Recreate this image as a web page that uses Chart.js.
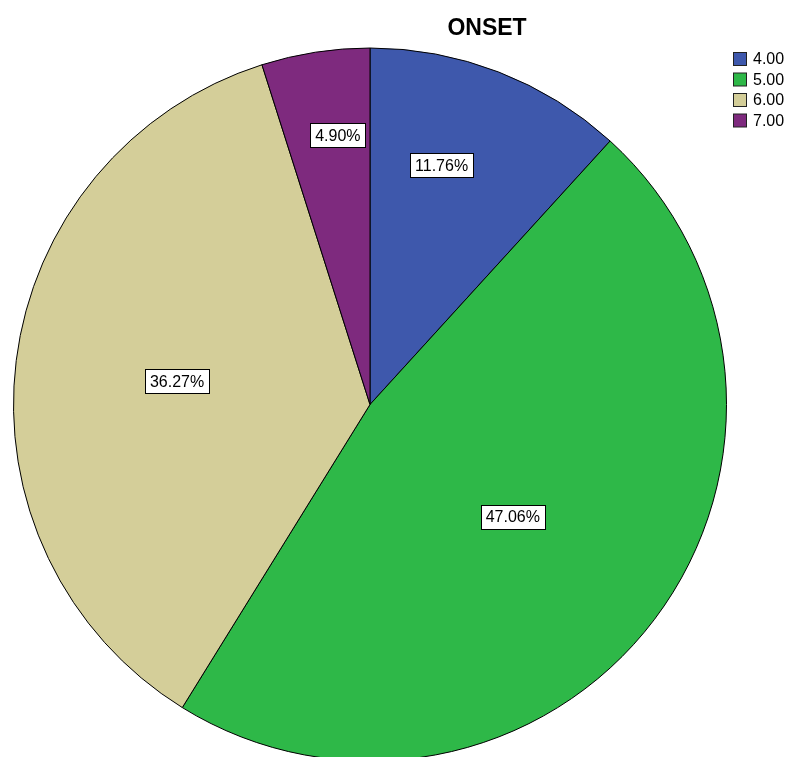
<!DOCTYPE html>
<html>
<head>
<meta charset="utf-8">
<script src="https://cdn.jsdelivr.net/npm/chart.js@4/dist/chart.umd.min.js"></script>
<style>
html,body{margin:0;padding:0;background:#fff;overflow:hidden;}
canvas{display:block;}
</style>
</head>
<body>
<canvas id="c" width="788" height="800"></canvas>
<script>
const chartTitle = "ONSET";
const categories = ["4.00", "5.00", "6.00", "7.00"];
const percentages = [11.76, 47.06, 36.27, 4.90];
const sliceColors = ["#3E58AC", "#2EB848", "#D4CE99", "#7E2A7E"];

// label placement style (radial fraction, angular tweak in degrees)
const labelRadial = [0.70, 0.51, 0.545, 0.76];
const labelAngleTweak = [-4.5, 1.2, -0.2, 2.0];

const FONT = '"Liberation Sans", Arial, sans-serif';

const overlay = {
  id: 'overlay',
  afterDraw(chart) {
    const ctx = chart.ctx;
    const meta = chart.getDatasetMeta(0);
    ctx.save();
    // labels
    ctx.font = '16px ' + FONT;
    ctx.textAlign = 'center';
    ctx.textBaseline = 'middle';
    meta.data.forEach((arc, i) => {
      const mid = (arc.startAngle + arc.endAngle) / 2 + labelAngleTweak[i] * Math.PI / 180;
      const r = arc.outerRadius * labelRadial[i];
      const x = arc.x + Math.cos(mid) * r;
      const y = arc.y + Math.sin(mid) * r;
      const txt = percentages[i].toFixed(2) + '%';
      const w = ctx.measureText(txt).width + 10;
      const h = 24;
      ctx.fillStyle = '#fff';
      ctx.fillRect(Math.round(x - w / 2) + 0.5, Math.round(y - h / 2) + 0.5, Math.round(w), h);
      ctx.strokeStyle = '#000';
      ctx.lineWidth = 1;
      ctx.strokeRect(Math.round(x - w / 2) + 0.5, Math.round(y - h / 2) + 0.5, Math.round(w), h);
      ctx.fillStyle = '#000';
      ctx.fillText(txt, x, y + 1);
    });
    // title
    ctx.font = 'bold 23px ' + FONT;
    ctx.fillStyle = '#000';
    ctx.fillText(chartTitle, 487, 29);
    // legend
    ctx.font = '16px ' + FONT;
    ctx.textAlign = 'left';
    categories.forEach((c, i) => {
      const y = 52 + i * 20.5;
      ctx.fillStyle = sliceColors[i];
      ctx.fillRect(733.5, y + 0.5, 13, 13);
      ctx.strokeStyle = '#222';
      ctx.lineWidth = 1;
      ctx.strokeRect(733.5, y + 0.5, 13, 13);
      ctx.fillStyle = '#000';
      ctx.fillText(c, 753, y + 8);
    });
    ctx.restore();
  }
};

new Chart(document.getElementById('c'), {
  type: 'pie',
  data: {
    labels: categories,
    datasets: [{
      data: percentages,
      backgroundColor: sliceColors,
      borderColor: '#000',
      borderWidth: 1,
      borderAlign: 'center'
    }]
  },
  options: {
    responsive: false,
    animation: false,
    rotation: 0,
    layout: { padding: { left: 13, right: 61, top: 47, bottom: 38 } },
    plugins: {
      legend: { display: false },
      title: { display: false },
      tooltip: { enabled: false }
    }
  },
  plugins: [overlay]
});
</script>
</body>
</html>
